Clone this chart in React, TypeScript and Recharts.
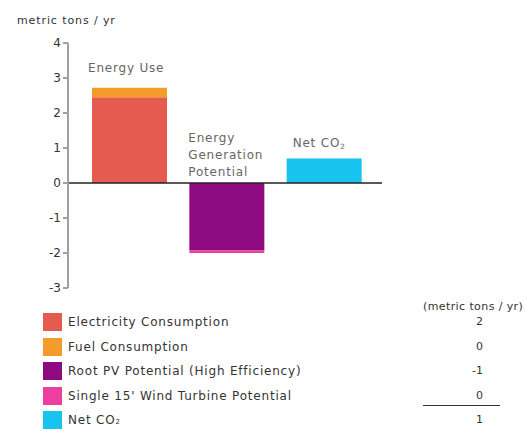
import React from "react";
import { BarChart, Bar, XAxis, YAxis, ReferenceLine, LabelList } from "recharts";

// Carbon balance per year, in metric tons
const categories = ["Energy Use", "Energy Generation Potential", "Net CO2"];
const electricity = [2.45, null, null];
const fuel = [0.27, null, null];
const roofPV = [null, -1.93, null];
const windTurbine = [null, -0.07, null];
const netCO2 = [null, null, 0.7];

const yTicks = [4, 3, 2, 1, 0, -1, -2, -3];

const legendNames = [
  "Electricity Consumption",
  "Fuel Consumption",
  "Root PV Potential (High Efficiency)",
  "Single 15' Wind Turbine Potential",
  "Net CO2",
];
const legendColors = ["#e55b4f", "#f39c2b", "#8e0a80", "#ec3f9e", "#17c3ef"];
// rounded totals shown in the table on the right
const summaryValues = [2, 0, -1, 0, 1];

const rows = categories.map((name, i) => ({
  name,
  electricity: electricity[i],
  fuel: fuel[i],
  roofPV: roofPV[i],
  wind: windTurbine[i],
  net: netCO2[i],
}));

const FONT = "'DejaVu Sans', Verdana, sans-serif";

function rectOf(props: any) {
  const vb = props.viewBox && props.viewBox.width !== undefined ? props.viewBox : props;
  const x = Number(vb.x);
  const y = Number(vb.y);
  const h = Number(vb.height);
  return { x, top: Math.min(y, y + h), width: Number(vb.width) };
}

function CO2Text({ size }: { size: number }) {
  return (
    <>
      Net CO
      <tspan fontSize={size * 0.6} dy={2}>2</tspan>
    </>
  );
}

const labelStyle = { fontFamily: FONT, fontSize: 12, letterSpacing: 0.8, fill: "#666" };

function EnergyUseLabel(props: any) {
  if (props.value == null) return null;
  const r = rectOf(props);
  return (
    <text x={r.x - 4} y={r.top - 16} {...labelStyle}>
      Energy Use
    </text>
  );
}

function GenerationLabel(props: any) {
  if (props.value == null) return null;
  const r = rectOf(props);
  const lines = ["Energy", "Generation", "Potential"];
  return (
    <text x={r.x - 1} y={r.top - 41} {...labelStyle}>
      {lines.map((l, i) => (
        <tspan key={l} x={r.x - 1} dy={i === 0 ? 0 : 17}>
          {l}
        </tspan>
      ))}
    </text>
  );
}

function NetLabel(props: any) {
  if (props.value == null) return null;
  const r = rectOf(props);
  return (
    <text x={r.x + 6} y={r.top - 12} {...labelStyle}>
      <CO2Text size={12} />
    </text>
  );
}

export default function App() {
  return (
    <div
      style={{
        position: "absolute",
        left: 0,
        top: 0,
        width: 525,
        height: 431,
        background: "#fff",
        fontFamily: FONT,
        overflow: "hidden",
      }}
    >
      <div
        style={{
          position: "absolute",
          left: 17,
          top: 14,
          fontSize: 11,
          letterSpacing: 0.9,
          color: "#333",
          lineHeight: "14px",
        }}
      >
        metric tons / yr
      </div>

      <BarChart
        width={525}
        height={300}
        data={rows}
        stackOffset="sign"
        margin={{ top: 43, right: 143, bottom: 12, left: 28 }}
        style={{ position: "absolute", left: 0, top: 0 }}
      >
        <XAxis dataKey="name" hide padding={{ left: 13, right: 9 }} />
        <YAxis
          width={40}
          domain={[-3, 4]}
          ticks={yTicks}
          interval={0}
          tickSize={5}
          tickMargin={2}
          axisLine={{ stroke: "#a0a0a0", strokeWidth: 2 }}
          tickLine={{ stroke: "#a0a0a0", strokeWidth: 2 }}
          tick={{ fill: "#333", fontSize: 12, fontFamily: FONT }}
        />
        <Bar dataKey="electricity" stackId="a" barSize={75} fill={legendColors[0]} isAnimationActive={false} />
        <Bar dataKey="fuel" stackId="a" barSize={75} fill={legendColors[1]} isAnimationActive={false}>
          <LabelList dataKey="fuel" content={EnergyUseLabel} />
        </Bar>
        <Bar dataKey="roofPV" stackId="a" barSize={75} fill={legendColors[2]} isAnimationActive={false}>
          <LabelList dataKey="roofPV" content={GenerationLabel} />
        </Bar>
        <Bar dataKey="wind" stackId="a" barSize={75} fill={legendColors[3]} isAnimationActive={false} />
        <Bar dataKey="net" stackId="a" barSize={75} fill={legendColors[4]} isAnimationActive={false}>
          <LabelList dataKey="net" content={NetLabel} />
        </Bar>
        <ReferenceLine y={0} stroke="#222" strokeWidth={1.5} ifOverflow="extendDomain" />
      </BarChart>

      {/* legend with the yearly totals on the right */}
      {legendNames.map((name, i) => {
        const top = 313 + i * 24.5;
        const isTotal = i === legendNames.length - 1;
        return (
          <React.Fragment key={name}>
            <div
              style={{
                position: "absolute",
                left: 43,
                top,
                width: 19,
                height: 18,
                background: legendColors[i],
              }}
            />
            <div
              style={{
                position: "absolute",
                left: 68,
                top: top + 1,
                fontSize: 12,
                letterSpacing: 0.8,
                color: "#333",
                lineHeight: "16px",
                whiteSpace: "nowrap",
              }}
            >
              {isTotal ? (
                <>
                  Net CO<span style={{ fontSize: 7 }}>2</span>
                </>
              ) : (
                name
              )}
            </div>
            {isTotal && (
              <div
                style={{
                  position: "absolute",
                  left: 423,
                  top: top - 6,
                  width: 77,
                  height: 1,
                  background: "#333",
                }}
              />
            )}
            <div
              style={{
                position: "absolute",
                left: 440,
                width: 43,
                top: top + 2,
                textAlign: "right",
                fontSize: 11,
                color: "#333",
                lineHeight: "14px",
              }}
            >
              {summaryValues[i]}
            </div>
          </React.Fragment>
        );
      })}
      <div
        style={{
          position: "absolute",
          left: 423,
          top: 300,
          fontSize: 11,
          letterSpacing: 0.4,
          color: "#333",
          lineHeight: "14px",
          whiteSpace: "nowrap",
        }}
      >
        (metric tons / yr)
      </div>
    </div>
  );
}
